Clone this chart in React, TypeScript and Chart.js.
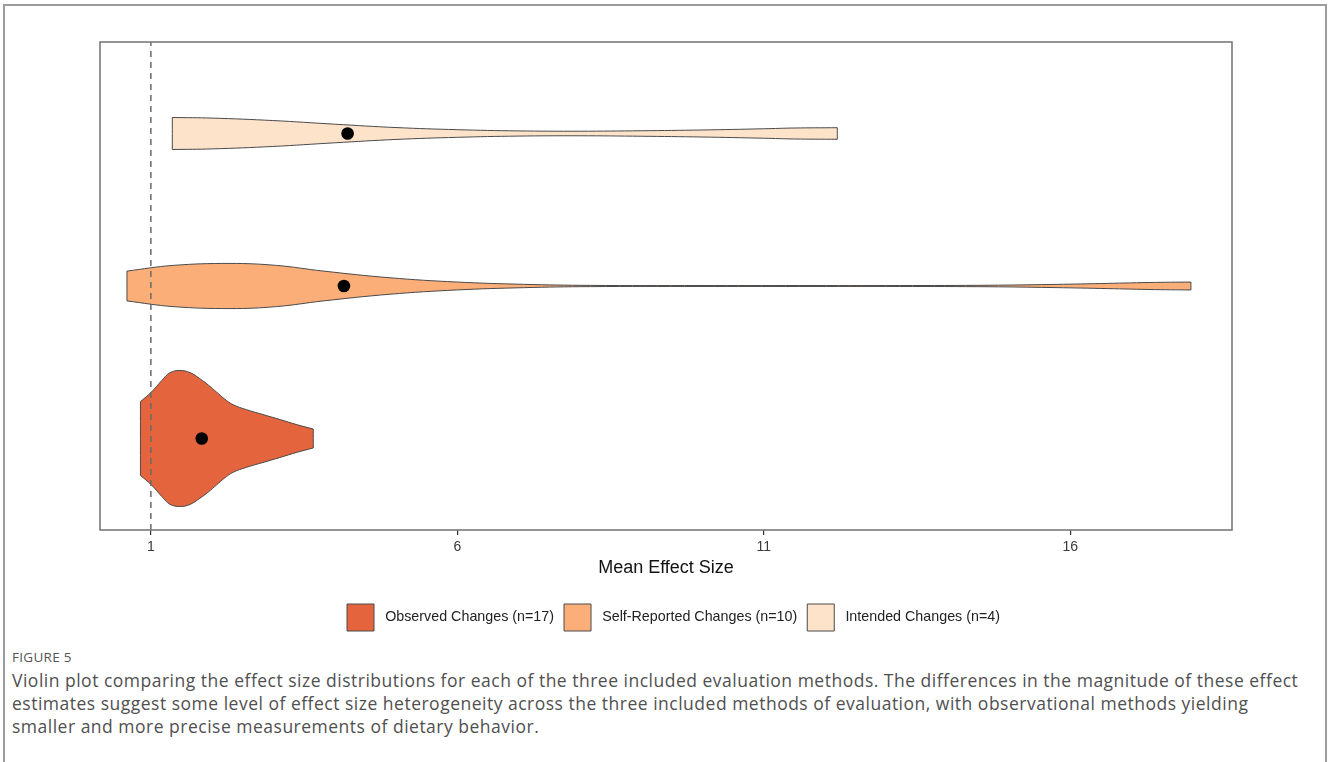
import React, { useEffect, useRef } from 'react';
import { Chart, registerables } from 'chart.js';

Chart.register(...registerables);

// ---------- data ----------
const categories = ['Observed Changes (n=17)', 'Self-Reported Changes (n=10)', 'Intended Changes (n=4)'];
const meanEffectSize = [1.83, 4.15, 4.21];
const xTicks = [1, 6, 11, 16];
const referenceValue = 1;
const axisTitle = 'Mean Effect Size';

// violin outlines: effect size positions and half-widths (in category units)
const observedX = [0.83, 1.01, 1.18, 1.31, 1.47, 1.64, 1.8, 1.94, 2.07, 2.2, 2.34, 2.56, 2.83, 3.11, 3.38, 3.65];
const observedHalfWidth = [0.242, 0.305, 0.381, 0.431, 0.446, 0.432, 0.392, 0.35, 0.305, 0.26, 0.222, 0.189, 0.157, 0.124, 0.091, 0.062];

const selfReportedX = [0.61, 1.36, 2.29, 3.05, 3.81, 4.9, 5.99, 7.08, 8.17, 9.96, 11.59, 13.22, 14.69, 15.67, 16.49, 17.3, 17.97];
const selfReportedHalfWidth = [0.098, 0.135, 0.148, 0.135, 0.098, 0.054, 0.026, 0.011, 0.004, 0.003, 0.003, 0.003, 0.005, 0.01, 0.016, 0.023, 0.026];

const intendedX = [1.35, 2.0, 2.99, 4.0, 5.0, 6.0, 6.99, 8.0, 9.0, 9.99, 11.0, 11.5, 12.2];
const intendedHalfWidth = [0.105, 0.101, 0.085, 0.061, 0.039, 0.025, 0.017, 0.015, 0.018, 0.023, 0.031, 0.036, 0.038];

const violinX = [observedX, selfReportedX, intendedX];
const violinHalfWidth = [observedHalfWidth, selfReportedHalfWidth, intendedHalfWidth];

const fillColors = ['#E4643D', '#FBAE78', '#FDE3CA'];

const X_MIN = 0.17;
const X_MAX = 18.64;
const Y_MIN = 0.4;
const Y_MAX = 3.6;

const captionLabel = 'FIGURE 5';
const captionLines = [
  'Violin plot comparing the effect size distributions for each of the three included evaluation methods. The differences in the magnitude of these effect',
  'estimates suggest some level of effect size heterogeneity across the three included methods of evaluation, with observational methods yielding',
  'smaller and more precise measurements of dietary behavior.',
];

function violinPath(xs: number[], hws: number[], center: number) {
  const top = xs.map((x, i) => ({ x, y: center + hws[i] }));
  const bottom = xs.map((x, i) => ({ x, y: center - hws[i] })).reverse();
  const last = xs.length - 1;
  const pts: { x: number; y: number }[] = [];
  top.forEach((p, i) => {
    pts.push(p);
    if (i === 0 || i === last) pts.push({ ...p });
  });
  bottom.forEach((p, i) => {
    pts.push(p);
    if (i === 0 || i === last) pts.push({ ...p });
  });
  pts.push({ ...top[0] });
  return pts;
}

const framePlugin = {
  id: 'plotFrame',
  afterDatasetsDraw(chart: any) {
    const { ctx, chartArea: a } = chart;
    ctx.save();
    ctx.strokeStyle = '#7a7a7a';
    ctx.lineWidth = 1.6;
    ctx.strokeRect(a.left, a.top, a.right - a.left, a.bottom - a.top);
    ctx.restore();
  },
};

export default function App() {
  const canvasRef = useRef<HTMLCanvasElement>(null);

  useEffect(() => {
    if (!canvasRef.current) return;
    Chart.defaults.font.family = '"Liberation Sans", Arial, sans-serif';

    const violinSets = categories.map((label, i) => ({
      type: 'scatter' as const,
      label,
      data: violinPath(violinX[i], violinHalfWidth[i], i + 1),
      showLine: true,
      fill: 'shape',
      tension: 0.4,
      backgroundColor: fillColors[i],
      borderColor: '#4a4a4a',
      borderWidth: 1,
      pointRadius: 0,
      pointHoverRadius: 0,
      order: 3,
    }));

    const meanSet = {
      type: 'scatter' as const,
      label: '',
      data: meanEffectSize.map((m, i) => ({ x: m, y: i + 1 })),
      showLine: false,
      pointRadius: 6.3,
      pointBackgroundColor: '#000',
      pointBorderWidth: 0,
      backgroundColor: '#000',
      order: 1,
    };

    const refSet = {
      type: 'scatter' as const,
      label: '',
      data: [
        { x: referenceValue, y: Y_MIN },
        { x: referenceValue, y: Y_MAX },
      ],
      showLine: true,
      fill: false,
      borderColor: '#6a6a6a',
      borderWidth: 1.5,
      borderDash: [6, 5],
      pointRadius: 0,
      order: 2,
    };

    const chart = new Chart(canvasRef.current, {
      type: 'scatter',
      data: { datasets: [...violinSets, meanSet, refSet] as any },
      plugins: [framePlugin],
      options: {
        animation: false,
        responsive: false,
        maintainAspectRatio: false,
        layout: { padding: { left: 100, right: 81, top: 42, bottom: 0 } },
        plugins: {
          tooltip: { enabled: false },
          legend: {
            position: 'bottom',
            labels: {
              filter: (item: any) => item.datasetIndex < categories.length,
              generateLabels: (chart: any) =>
                Chart.defaults.plugins.legend.labels.generateLabels(chart).map((it: any) => ({ ...it, text: ' ' + it.text })),
              boxWidth: 27,
              boxHeight: 27,
              padding: 10,
              color: '#222',
              font: { size: 14.3 },
            },
          },
        },
        scales: {
          x: {
            type: 'linear',
            min: X_MIN,
            max: X_MAX,
            afterBuildTicks: (scale: any) => {
              scale.ticks = xTicks.map((v) => ({ value: v }));
            },
            grid: { display: true, drawOnChartArea: false, drawTicks: true, tickLength: 5, color: '#333', lineWidth: 1.2 },
            border: { display: false },
            ticks: { color: '#3a3a3a', font: { size: 14, lineHeight: 1.0 }, padding: 5, maxRotation: 0, autoSkip: false },
            title: {
              display: true,
              text: axisTitle,
              color: '#111',
              font: { size: 18, lineHeight: 1.0 },
              padding: { top: 0, bottom: 17 },
            },
          },
          y: {
            type: 'linear',
            min: Y_MIN,
            max: Y_MAX,
            display: false,
          },
          spacer: {
            type: 'linear',
            position: 'right',
            display: true,
            grid: { display: false },
            border: { display: false },
            ticks: { display: false },
            afterFit: (scale: any) => {
              scale.width = 15;
            },
          },
        },
      } as any,
    });
    return () => chart.destroy();
  }, []);

  return (
    <div style={{ position: 'absolute', left: 0, top: 0, width: 1328, height: 762, overflow: 'hidden', background: '#fff' }}>
      <div
        style={{
          position: 'absolute',
          left: 3,
          top: 4,
          width: 1320,
          height: 800,
          border: '2px solid #9c9c9c',
          borderBottom: 'none',
        }}
      />
      <canvas ref={canvasRef} width={1328} height={641} style={{ position: 'absolute', left: 0, top: 0, width: 1328, height: 641 }} />
      <div
        style={{
          position: 'absolute',
          left: 12,
          top: 649,
          fontFamily: '"Open Sans", sans-serif',
          fontSize: 13.5,
          color: '#555',
          letterSpacing: 0.3,
          lineHeight: '16px',
        }}
      >
        {captionLabel}
      </div>
      <div
        style={{
          position: 'absolute',
          left: 12,
          top: 668.5,
          fontFamily: '"Open Sans", sans-serif',
          fontSize: 17.5,
          letterSpacing: 0.5,
          color: '#505050',
          lineHeight: '23px',
          whiteSpace: 'nowrap',
        }}
      >
        {captionLines.map((l, i) => (
          <div key={i}>{l}</div>
        ))}
      </div>
    </div>
  );
}
